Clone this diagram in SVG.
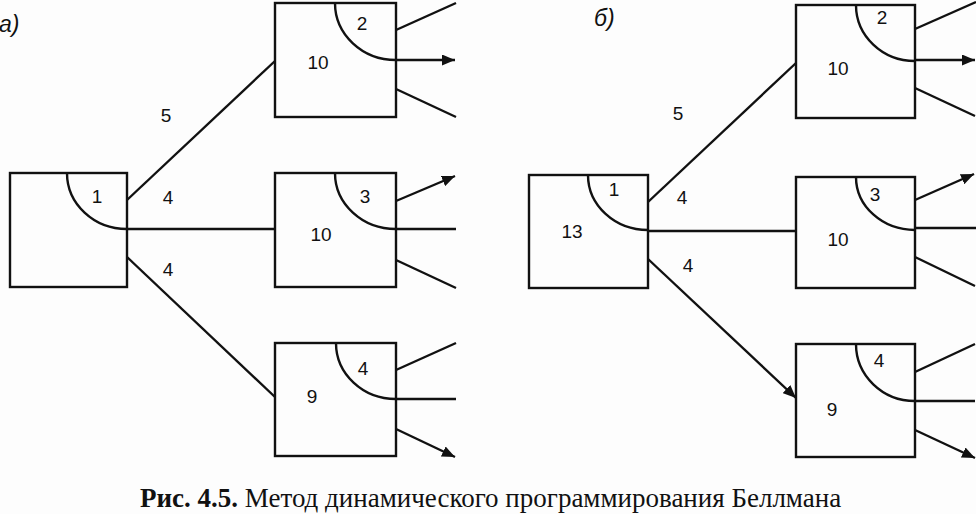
<svg xmlns="http://www.w3.org/2000/svg" width="976" height="514" viewBox="0 0 976 514">
<style>
.box{fill:none;stroke:#111;stroke-width:2.4}
.arc{fill:none;stroke:#111;stroke-width:2.4}
.ln{fill:none;stroke:#111;stroke-width:2.4}
.t{font-family:"Liberation Sans",Arial,sans-serif;font-size:19px;fill:#111;text-anchor:middle}
.lab{font-family:"Liberation Sans",Arial,sans-serif;font-size:23px;font-style:italic;fill:#111}
.cap{font-family:"Liberation Serif","Times New Roman",serif;font-size:27px;fill:#111}
</style>
<defs>
<marker id="ah" viewBox="0 0 13 11" refX="13" refY="5.5" markerWidth="13" markerHeight="11" markerUnits="userSpaceOnUse" orient="auto">
<path d="M0,0 L13,5.5 L0,11 z" fill="#111"/>
</marker>
</defs>
<rect width="976" height="514" fill="#fdfdfd"/>
<text class="lab" x="-1" y="32">а)</text>
<text class="lab" x="594" y="26">б)</text>

<g id="a-n1"><rect class="box" x="10" y="173" width="117" height="114"/><path class="arc" d="M67,173 A60 56 0 0 0 127,229"/><text class="t" x="97" y="203">1</text></g>
<g id="a-n2"><rect class="box" x="275" y="3" width="121" height="114"/><path class="arc" d="M335,3 A61 57 0 0 0 396,60"/><text class="t" x="362" y="30">2</text><text class="t" x="318" y="69">10</text></g>
<g id="a-n3"><rect class="box" x="275" y="173" width="121" height="114"/><path class="arc" d="M335,173 A61 56 0 0 0 396,229"/><text class="t" x="365" y="203">3</text><text class="t" x="321" y="241">10</text></g>
<g id="a-n4"><rect class="box" x="275" y="343" width="121" height="113"/><path class="arc" d="M336,343 A60 56 0 0 0 396,399"/><text class="t" x="363" y="375">4</text><text class="t" x="312" y="403">9</text></g>

<g id="b-n1"><rect class="box" x="529" y="175" width="119" height="113"/><path class="arc" d="M588,175 A60 55 0 0 0 648,230"/><text class="t" x="614" y="196">1</text><text class="t" x="572" y="238">13</text></g>
<g id="b-n2"><rect class="box" x="796" y="5" width="119" height="113"/><path class="arc" d="M856,5 A59 56 0 0 0 915,61"/><text class="t" x="882" y="24">2</text><text class="t" x="838" y="75">10</text></g>
<g id="b-n3"><rect class="box" x="796" y="177" width="119" height="111"/><path class="arc" d="M856,177 A59 53 0 0 0 915,230"/><text class="t" x="875" y="201">3</text><text class="t" x="838" y="246">10</text></g>
<g id="b-n4"><rect class="box" x="796" y="344" width="119" height="113"/><path class="arc" d="M856,344 A59 57 0 0 0 915,401"/><text class="t" x="879" y="367">4</text><text class="t" x="832" y="416">9</text></g>

<g id="connectors">
<line class="ln" x1="127" y1="200" x2="275" y2="61"/>
<line class="ln" x1="127" y1="229" x2="275" y2="229"/>
<line class="ln" x1="127" y1="257" x2="275" y2="397"/>
<line class="ln" x1="396" y1="30" x2="456" y2="3"/>
<line class="ln" x1="396" y1="60" x2="455" y2="60" marker-end="url(#ah)"/>
<line class="ln" x1="396" y1="89" x2="456" y2="117"/>
<line class="ln" x1="396" y1="201" x2="455" y2="176" marker-end="url(#ah)"/>
<line class="ln" x1="396" y1="229" x2="456" y2="229"/>
<line class="ln" x1="396" y1="260" x2="456" y2="288"/>
<line class="ln" x1="396" y1="370" x2="456" y2="343"/>
<line class="ln" x1="396" y1="399" x2="456" y2="399"/>
<line class="ln" x1="396" y1="429" x2="455" y2="457" marker-end="url(#ah)"/>

<line class="ln" x1="648" y1="202" x2="796" y2="63"/>
<line class="ln" x1="648" y1="231" x2="796" y2="231"/>
<line class="ln" x1="648" y1="259" x2="796" y2="398" marker-end="url(#ah)"/>
<line class="ln" x1="915" y1="29" x2="976" y2="2"/>
<line class="ln" x1="915" y1="60" x2="975" y2="60" marker-end="url(#ah)"/>
<line class="ln" x1="915" y1="88" x2="975" y2="116"/>
<line class="ln" x1="915" y1="200" x2="974" y2="174" marker-end="url(#ah)"/>
<line class="ln" x1="915" y1="228" x2="976" y2="228"/>
<line class="ln" x1="915" y1="257" x2="975" y2="286"/>
<line class="ln" x1="915" y1="372" x2="975" y2="344"/>
<line class="ln" x1="915" y1="401" x2="975" y2="401"/>
<line class="ln" x1="915" y1="430" x2="975" y2="458" marker-end="url(#ah)"/>

<text class="t" x="166" y="122">5</text>
<text class="t" x="168" y="204">4</text>
<text class="t" x="168" y="276">4</text>
<text class="t" x="678" y="120">5</text>
<text class="t" x="682" y="204">4</text>
<text class="t" x="688" y="272">4</text>
</g>

<text class="cap" x="140" y="507"><tspan font-weight="bold">Рис. 4.5.</tspan> Метод динамического программирования Беллмана</text>
</svg>
